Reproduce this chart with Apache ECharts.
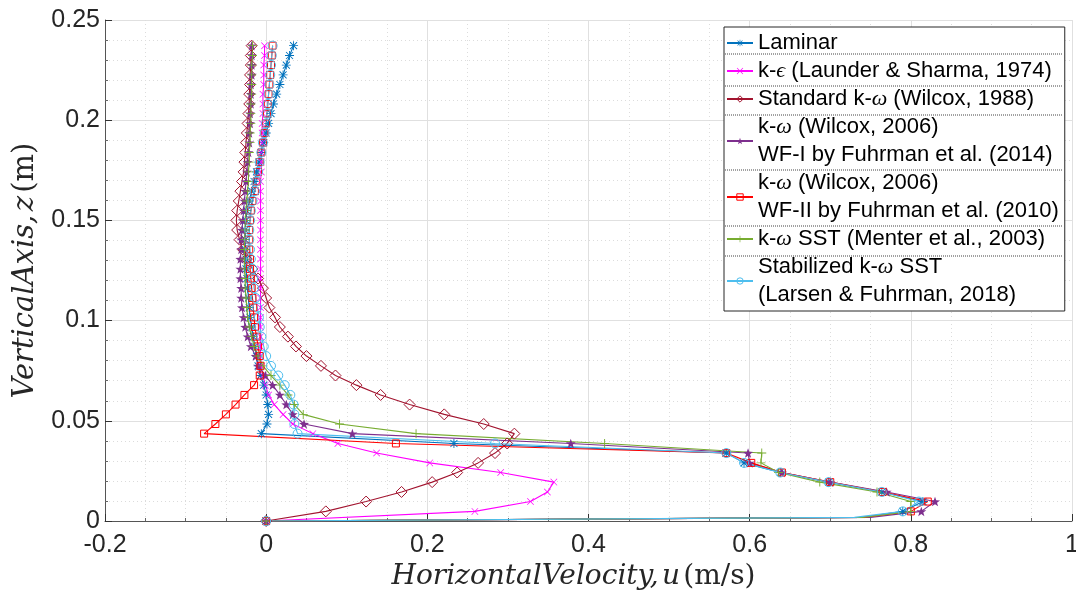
<!DOCTYPE html>
<html>
<head>
<meta charset="utf-8">
<script src="https://cdn.jsdelivr.net/npm/echarts@6/dist/echarts.min.js"></script>
<style>
  html, body { margin: 0; padding: 0; background: #fff; }
  #chart-panel { width: 1076px; height: 595px; }
</style>
</head>
<body>
<div id="chart-panel"></div>
<script>
// vertical positions of the profile points (m); index 1 is a near-bed point without marker
const Z = [0, 0.0018, 0.0048, 0.0097, 0.0145, 0.0194, 0.0242, 0.029, 0.0339, 0.0387, 0.0436,
  0.0484, 0.0532, 0.0581, 0.0629, 0.0678, 0.0726, 0.0774, 0.0823, 0.0871, 0.092,
  0.0968, 0.1016, 0.1065, 0.1113, 0.1162, 0.121, 0.1258, 0.1307, 0.1355, 0.1404,
  0.1452, 0.15, 0.1549, 0.1597, 0.1646, 0.1694, 0.1742, 0.1791, 0.1839, 0.1888,
  0.1936, 0.1984, 0.2033, 0.2081, 0.213, 0.2178, 0.2226, 0.2275, 0.2323, 0.2372]

// horizontal velocity u (m/s) for each model
const U_LAMINAR = [0, 0.74, 0.79, 0.815, 0.764, 0.698, 0.638, 0.593, 0.571, 0.233, -0.006,
  0.001, 0.003, 0.002, 0.0, -0.003, -0.007, -0.010, -0.012, -0.014, -0.016,
  -0.018, -0.020, -0.021, -0.022, -0.023, -0.024, -0.025, -0.025, -0.026, -0.026,
  -0.026, -0.025, -0.024, -0.021, -0.018, -0.015, -0.012, -0.009, -0.006, -0.003,
  0.0, 0.003, 0.006, 0.009, 0.013, 0.017, 0.021, 0.025, 0.029, 0.034]
const U_KEPS = [0, null, 0.259, 0.328, 0.349, 0.357, 0.291, 0.203, 0.137, 0.089, 0.058,
  0.033, 0.021, 0.010, 0.003, -0.001, -0.004, -0.006, -0.007, -0.007, -0.007,
  -0.007, -0.007, -0.007, -0.007, -0.007, -0.007, -0.007, -0.007, -0.007, -0.007,
  -0.007, -0.007, -0.007, -0.007, -0.007, -0.007, -0.006, -0.006, -0.006, -0.005,
  -0.005, -0.005, -0.004, -0.004, -0.004, -0.003, -0.003, -0.003, -0.002, -0.002]
const U_STD_KW = [0, null, 0.074, 0.124, 0.168, 0.206, 0.237, 0.263, 0.284, 0.299, 0.308,
  0.270, 0.221, 0.178, 0.142, 0.112, 0.086, 0.068, 0.050, 0.037, 0.027,
  0.017, 0.011, 0.004, 0.0, -0.004, -0.010, -0.017, -0.024, -0.029, -0.033,
  -0.036, -0.037, -0.036, -0.034, -0.032, -0.030, -0.028, -0.027, -0.026, -0.025,
  -0.024, -0.023, -0.022, -0.021, -0.021, -0.020, -0.020, -0.019, -0.019, -0.018]
const U_WF1 = [0, 0.75, 0.813, 0.830, 0.77, 0.70, 0.64, 0.60, 0.598, 0.378, 0.107,
  0.047, 0.033, 0.025, 0.017, 0.008, -0.001, -0.010, -0.013, -0.019, -0.023,
  -0.026, -0.028, -0.030, -0.031, -0.031, -0.032, -0.032, -0.032, -0.031, -0.031,
  -0.030, -0.029, -0.028, -0.027, -0.026, -0.025, -0.024, -0.023, -0.022, -0.021,
  -0.021, -0.020, -0.020, -0.019, -0.019, -0.019, -0.018, -0.018, -0.018, -0.018]
const U_WF2 = [0, 0.74, 0.80, 0.821, 0.765, 0.70, 0.64, 0.602, 0.571, 0.161, -0.077,
  -0.063, -0.050, -0.038, -0.027, -0.015, -0.008, -0.007, -0.008, -0.010, -0.012,
  -0.014, -0.015, -0.016, -0.017, -0.018, -0.019, -0.020, -0.020, -0.021, -0.021,
  -0.021, -0.020, -0.019, -0.017, -0.014, -0.012, -0.010, -0.008, -0.006, -0.004,
  -0.002, 0.0, 0.001, 0.002, 0.003, 0.004, 0.005, 0.006, 0.007, 0.008]
const U_SST = [0, 0.74, 0.80, 0.80, 0.758, 0.687, 0.636, 0.614, 0.615, 0.42, 0.186,
  0.091, 0.046, 0.035, 0.027, 0.017, 0.006, -0.004, -0.010, -0.015, -0.018,
  -0.021, -0.023, -0.024, -0.025, -0.026, -0.026, -0.027, -0.027, -0.027, -0.027,
  -0.026, -0.026, -0.025, -0.024, -0.023, -0.022, -0.022, -0.021, -0.021, -0.020,
  -0.020, -0.019, -0.019, -0.019, -0.018, -0.018, -0.018, -0.018, -0.017, -0.017]
const U_STAB_SST = [0, 0.73, 0.79, 0.81, 0.764, 0.698, 0.638, 0.593, 0.571, 0.284, 0.039,
  0.035, 0.035, 0.034, 0.030, 0.023, 0.015, 0.006, 0.0, -0.003, -0.006,
  -0.008, -0.009, -0.011, -0.013, -0.015, -0.016, -0.017, -0.019, -0.020, -0.021,
  -0.021, -0.020, -0.019, -0.017, -0.014, -0.012, -0.010, -0.008, -0.006, -0.004,
  -0.002, 0.0, 0.001, 0.002, 0.003, 0.004, 0.005, 0.006, 0.007, 0.008]

const NAMES = [
  "Laminar",
  "k-ϵ (Launder & Sharma, 1974)",
  "Standard k-ω (Wilcox, 1988)",
  "k-ω (Wilcox, 2006)\nWF-I by Fuhrman et al. (2014)",
  "k-ω (Wilcox, 2006)\nWF-II by Fuhrman et al. (2010)",
  "k-ω SST (Menter et al., 2003)",
  "Stabilized k-ω SST\n(Larsen & Fuhrman, 2018)"
]
const X_TICKS = [-0.2, 0, 0.2, 0.4, 0.6, 0.8, 1]
const Y_TICKS = [0, 0.05, 0.1, 0.15, 0.2, 0.25]

const ASTERISK = "path://M4.5,0h1v10h-1z M0,4.5h10v1h-10z M1.46,0.76L9.24,8.54L8.54,9.24L0.76,1.46z M8.54,0.76L9.24,1.46L1.46,9.24L0.76,8.54z"
const CROSS = "path://M0.7,0L5,4.3L9.3,0L10,0.7L5.7,5L10,9.3L9.3,10L5,5.7L0.7,10L0,9.3L4.3,5L0,0.7z"
const PLUS = "path://M4.5,0h1v4.5h4.5v1h-4.5v4.5h-1v-4.5h-4.5v-1h4.5z"
const STAR = "path://M5,0L6.18,3.38L9.76,3.45L6.9,5.62L7.94,9.05L5,7L2.06,9.05L3.1,5.62L0.24,3.45L3.82,3.38z"

const chart = echarts.init(document.getElementById("chart-panel"), null, { renderer: "canvas" })

const toPoints = (u) => {
  const pts = []
  Z.forEach((z, i) => {
    if (u[i] === null) return
    // the near-bed point has no marker in the original
    pts.push(i === 1 ? { value: [u[i], z], symbol: "none" } : [u[i], z])
  })
  return pts
}

const openStyle = (color) => ({ color: "rgba(255,255,255,0)", borderColor: color, borderWidth: 1 })

const mkSeries = (name, u, color, symbol, size, open) => {
  return {
    name: name,
    type: "line",
    data: toPoints(u),
    symbol: symbol,
    symbolSize: size,
    symbolKeepAspect: true,
    showAllSymbol: true,
    animation: false,
    lineStyle: { color: color, width: 1.1 },
    itemStyle: open ? openStyle(color) : { color: color, borderWidth: 0 },
    emphasis: { disabled: true }
  }
}

const serif = "'DejaVu Serif', 'Liberation Serif', serif"
const sans = "'Liberation Sans', Arial, sans-serif"
const axisCol = "#262626"

const fmt = (v) => {
  const r = Math.round(v * 100) / 100
  return String(r)
}

const COLORS = ["#0072BD", "#FF00FF", "#A2142F", "#7E2F8E", "#FF0000", "#77AC30", "#4DBEEE"]
const OPEN = [false, false, true, false, true, false, true]

const options = {
  backgroundColor: "#fff",
  animation: false,
  grid: { left: 105, right: 4, top: 20, bottom: 74, containLabel: false, outerBoundsMode: "none" },
  xAxis: {
    type: "value",
    min: X_TICKS[0],
    max: X_TICKS[X_TICKS.length - 1],
    interval: 0.2,
    axisLine: { show: true, onZero: false, lineStyle: { color: "#555", width: 1 } },
    axisTick: { show: true, inside: true, length: 7, lineStyle: { color: "#333" } },
    minorTick: { show: true, splitNumber: 4, length: 3, lineStyle: { color: "#666" } },
    splitLine: { show: true, lineStyle: { color: "#e0e0e0", width: 1 } },
    minorSplitLine: { show: true, lineStyle: { color: "#dcdcdc", width: 1, type: [1, 3] } },
    axisLabel: { formatter: fmt, fontFamily: sans, fontSize: 25, color: axisCol, margin: 12 },
    name: "{i|HorizontalVelocity,} {i|u} {n|(m/s)}",
    nameLocation: "middle",
    nameGap: 42,
    nameTextStyle: {
      padding: [0, 30, 0, 0],
      rich: {
        i: { fontFamily: serif, fontStyle: "italic", fontSize: 28, color: axisCol },
        n: { fontFamily: serif, fontSize: 28, color: axisCol }
      }
    }
  },
  yAxis: {
    type: "value",
    min: Y_TICKS[0],
    max: Y_TICKS[Y_TICKS.length - 1],
    interval: 0.05,
    axisLine: { show: true, onZero: false, lineStyle: { color: "#555", width: 1 } },
    axisTick: { show: true, inside: true, length: 7, lineStyle: { color: "#333" } },
    minorTick: { show: true, splitNumber: 5, length: 3, lineStyle: { color: "#666" } },
    splitLine: { show: true, lineStyle: { color: "#e0e0e0", width: 1 } },
    minorSplitLine: { show: true, lineStyle: { color: "#dcdcdc", width: 1, type: [1, 3] } },
    axisLabel: { formatter: fmt, fontFamily: sans, fontSize: 25, color: axisCol, margin: 5 },
    name: "{i|VerticalAxis,} {i|z} {n|(m)}",
    nameLocation: "middle",
    nameGap: 61,
    nameTextStyle: {
      rich: {
        i: { fontFamily: serif, fontStyle: "italic", fontSize: 29, color: axisCol },
        n: { fontFamily: serif, fontSize: 29, color: axisCol }
      }
    }
  },
  legend: {
    orient: "vertical",
    left: 724,
    top: 27,
    itemGap: 0,
    itemWidth: 26,
    itemHeight: 8,
    padding: [2, 6, 2, 2],
    backgroundColor: "#fff",
    borderColor: "#262626",
    borderWidth: 1,
    borderRadius: 0,
    data: NAMES.map((n, i) => ({
      name: n,
      itemStyle: OPEN[i] ? openStyle(COLORS[i]) : { color: COLORS[i], borderWidth: 0 }
    })),
    formatter: (name) => name.replace(/ω/g, "{w|ω}").replace(/ϵ/g, "{w|ϵ}"),
    textStyle: {
      fontFamily: sans,
      fontSize: 22,
      color: "#000",
      lineHeight: 28,
      rich: {
        w: { fontFamily: "'Liberation Serif', serif", fontStyle: "italic", fontSize: 22, lineHeight: 28, color: "#000" }
      }
    }
  },
  graphic: [],
  series: [
    mkSeries(NAMES[0], U_LAMINAR, COLORS[0], ASTERISK, 9, OPEN[0]),
    mkSeries(NAMES[1], U_KEPS, COLORS[1], CROSS, 7, OPEN[1]),
    mkSeries(NAMES[2], U_STD_KW, COLORS[2], "diamond", 11, OPEN[2]),
    mkSeries(NAMES[3], U_WF1, COLORS[3], STAR, 10, OPEN[3]),
    mkSeries(NAMES[4], U_WF2, COLORS[4], "rect", 7, OPEN[4]),
    mkSeries(NAMES[5], U_SST, COLORS[5], PLUS, 9, OPEN[5]),
    mkSeries(NAMES[6], U_STAB_SST, COLORS[6], "circle", 9, OPEN[6])
  ]
}

// dotted separators between legend rows (decoration only)
const SEP_Y = [54, 86, 115, 170, 226, 256]
options.graphic = SEP_Y.map((y) => ({
  type: "line",
  z: 100,
  shape: { x1: 725, y1: y, x2: 1063, y2: y },
  style: { stroke: "#444", lineWidth: 1, lineDash: [1, 1] }
}))

chart.setOption(options)
</script>
</body>
</html>
